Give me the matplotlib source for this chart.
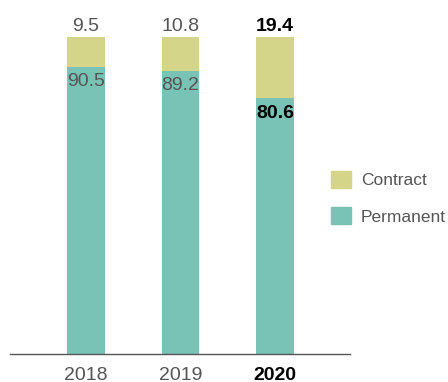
import matplotlib.pyplot as plt
from matplotlib.patches import Patch

years = ['2018', '2019', '2020']
permanent = [90.5, 89.2, 80.6]
contract = [9.5, 10.8, 19.4]

teal = '#79c2b6'
olive = '#d4d588'
grey = '#555555'

plt.rcParams['font.family'] = ['Liberation Sans', 'DejaVu Sans']

fig = plt.figure(figsize=(4.48, 3.82), dpi=100)
ax = fig.add_axes([10 / 448, 28 / 382, 340 / 448, 317 / 382])

x = list(range(len(years)))
w = 0.40
ax.bar(x, permanent, width=w, color=teal, linewidth=0)
ax.bar(x, contract, width=w, bottom=permanent, color=olive, linewidth=0)

ax.set_xlim(-0.804, 2.794)
ax.set_ylim(0, 100)

for i in x:
    last = i == len(years) - 1
    col = 'black' if last else grey
    wt = 'bold' if last else 'normal'
    ax.text(i, permanent[i] + contract[i] + 0.6, f'{contract[i]}', ha='center', va='bottom',
            fontsize=14, color=col, fontweight=wt)
    ax.text(i, permanent[i] - 1.9, f'{permanent[i]}', ha='center', va='top',
            fontsize=14, color=col, fontweight=wt)

ax.set_xticks(x)
ax.set_xticklabels(years, fontsize=14, color=grey)
ax.get_xticklabels()[-1].set_color('black')
ax.get_xticklabels()[-1].set_fontweight('bold')
ax.tick_params(axis='x', length=0, pad=9)
ax.set_yticks([])
for s in ['top', 'right', 'left']:
    ax.spines[s].set_visible(False)
ax.spines['bottom'].set_color(grey)
ax.spines['bottom'].set_linewidth(1)

handles = [Patch(color=olive, label='Contract'), Patch(color=teal, label='Permanent')]
fig.legend(handles=handles, loc='upper left', bbox_to_anchor=(315 / 448, 1 - 155 / 382),
           frameon=False, fontsize=12.5, handlelength=1.15, handleheight=1.15,
           labelspacing=1.1, handletextpad=0.6, labelcolor=grey)

fig.savefig('out.png', dpi=100)
